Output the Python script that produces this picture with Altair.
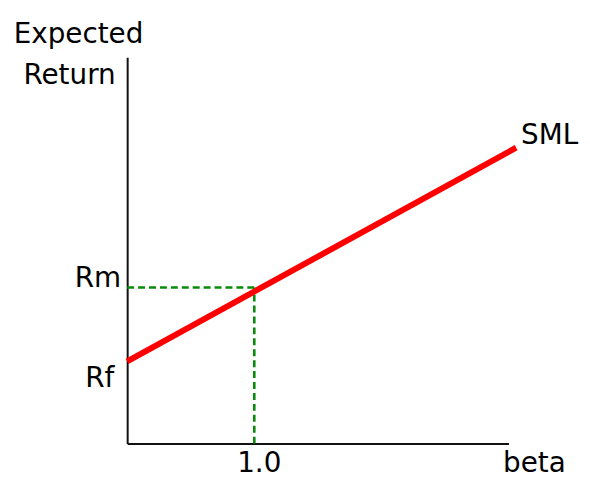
import altair as alt
import pandas as pd

# Data
beta_line = [0.0, 3.06]
return_line = [2.13, 7.66]
rf_value = 2.13
rm_value = 4.04
beta_market = 1.0
x_domain = [0, 3]
y_domain = [0, 10]

FONT = "DejaVu Sans"
FS = 28

xs = alt.Scale(domain=x_domain, nice=False, zero=False)
ys = alt.Scale(domain=y_domain, nice=False, zero=False)

line_df = pd.DataFrame({"beta": beta_line, "ret": return_line})

base_axes = alt.Chart(line_df).mark_point(opacity=0).encode(
    x=alt.X("beta:Q", scale=xs,
            axis=alt.Axis(domain=True, ticks=False, labels=False, grid=False,
                          title=None, domainColor="#111", domainWidth=2)),
    y=alt.Y("ret:Q", scale=ys,
            axis=alt.Axis(domain=True, ticks=False, labels=False, grid=False,
                          title=None, domainColor="#111", domainWidth=2)),
)

sml = alt.Chart(line_df).mark_line(color="#ff0000", strokeWidth=6, clip=False).encode(
    x=alt.X("beta:Q", scale=xs), y=alt.Y("ret:Q", scale=ys)
)

h_df = pd.DataFrame({"b0": [x_domain[0]], "b1": [beta_market], "r": [rm_value]})
h_rule = alt.Chart(h_df).mark_rule(color="#0a8a0a", strokeWidth=2.6, strokeDash=[7, 4]).encode(
    x=alt.X("b0:Q", scale=xs), x2="b1:Q", y=alt.Y("r:Q", scale=ys)
)
v_df = pd.DataFrame({"b": [beta_market], "r0": [y_domain[0]], "r1": [rm_value]})
v_rule = alt.Chart(v_df).mark_rule(color="#0a8a0a", strokeWidth=2.6, strokeDash=[7, 4]).encode(
    x=alt.X("b:Q", scale=xs), y=alt.Y("r0:Q", scale=ys), y2="r1:Q"
)


def label(text, bx, ry, align, dx, dy):
    df = pd.DataFrame({"b": [bx], "r": [ry], "t": [text]})
    return alt.Chart(df).mark_text(
        font=FONT, fontSize=FS, color="black", align=align,
        baseline="alphabetic", dx=dx, dy=dy, clip=False
    ).encode(x=alt.X("b:Q", scale=xs), y=alt.Y("r:Q", scale=ys), text="t:N")


labels = [
    label("Expected", x_domain[0], y_domain[1], "center", -49, -14),
    label("Return", x_domain[0], y_domain[1], "center", -58, 27),
    label("Rm", x_domain[0], rm_value, "right", -6, -1),
    label("Rf", x_domain[0], rf_value, "right", -13, 26),
    label("1.0", beta_market, y_domain[0], "center", 5, 29),
    label("beta", x_domain[1], y_domain[0], "center", 26, 29),
    label("SML", beta_line[1], return_line[1], "left", 5, -4),
]

chart = alt.layer(base_axes, h_rule, v_rule, sml, *labels).properties(
    width=384, height=389,
    autosize=alt.AutoSizeParams(type="none"),
    padding={"left": 120, "top": 48, "right": 74, "bottom": 36},
).configure(background="white", view=alt.ViewConfig(stroke=None))

chart.save("out.html", embed_options={"renderer": "svg", "actions": False})
